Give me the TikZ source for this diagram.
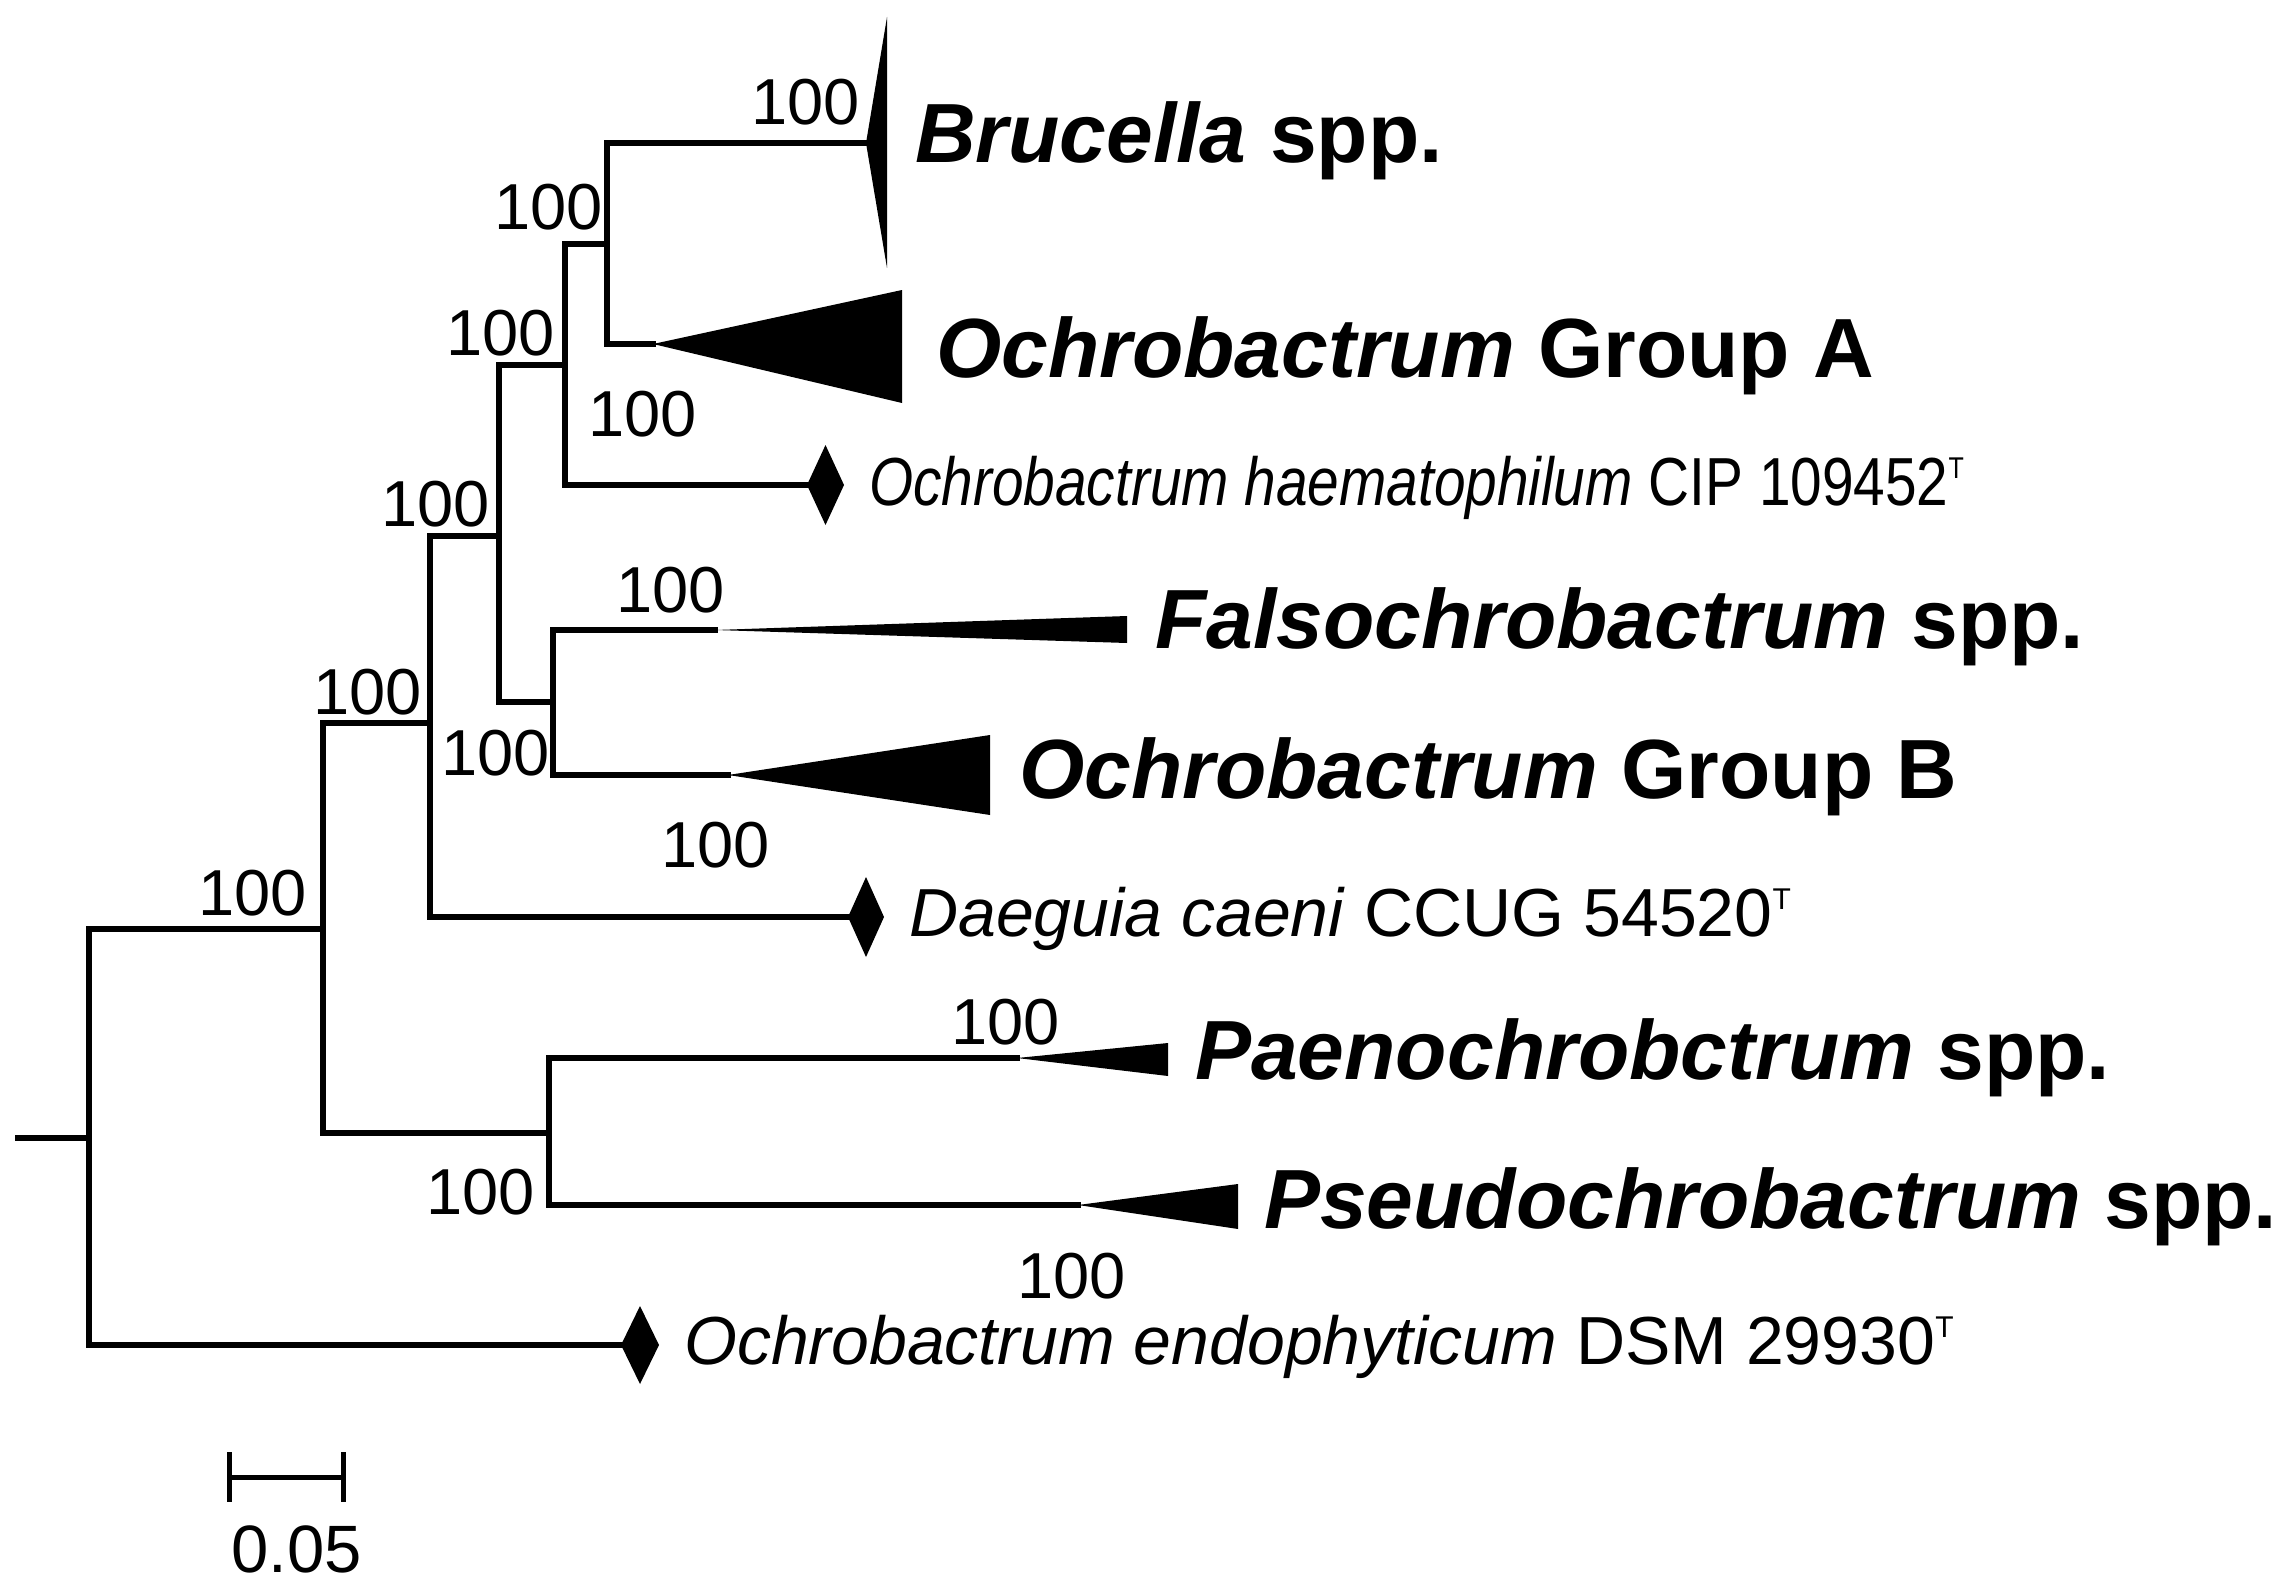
\documentclass[tikz,border=0pt]{standalone}
\usepackage{graphicx}
\usepackage{fontspec}
\setmainfont{Liberation Sans}
\newcommand\supT{\raisebox{27pt}{\fontsize{30}{30}\selectfont T}}
\begin{document}
\begin{tikzpicture}[x=1pt,y=-1pt,
  br/.style={line width=6pt,line cap=rect},
  clade/.style={fill=black,draw=none},
  boot/.style={font=\fontsize{65}{70}\selectfont,inner sep=0pt,anchor=base east},
  big/.style={font=\fontsize{84}{90}\selectfont\bfseries,inner sep=0pt,anchor=base west},
  small/.style={font=\fontsize{68}{72}\selectfont,inner sep=0pt,anchor=base west},
  sbar/.style={line width=5pt},
]
\useasboundingbox (0,0) rectangle (2293,1589);
% internal nodes
\coordinate (root) at (18,1138);
\coordinate (n1) at (89,1138);
\coordinate (n2) at (323,929);
\coordinate (n3) at (430,723);
\coordinate (n4) at (499,536);
\coordinate (n5) at (565,365);
\coordinate (n6) at (607,244);
\coordinate (n7) at (553,702);
\coordinate (n8) at (549,1133);
% leaves
\coordinate (bru) at (866,143);
\coordinate (gA) at (653,344);
\coordinate (hae) at (807,485);
\coordinate (fal) at (715,630);
\coordinate (gB) at (728,775);
\coordinate (dae) at (848,917);
\coordinate (pae) at (1017,1058);
\coordinate (pse) at (1078,1205);
\coordinate (endo) at (621,1345);
% branches
\draw[br] (root) -- (n1);
\draw[br] (n1) |- (n2);
\draw[br] (n1) |- (endo);
\draw[br] (n2) |- (n3);
\draw[br] (n2) |- (n8);
\draw[br] (n3) |- (n4);
\draw[br] (n3) |- (dae);
\draw[br] (n4) |- (n5);
\draw[br] (n4) |- (n7);
\draw[br] (n5) |- (n6);
\draw[br] (n5) |- (hae);
\draw[br] (n6) |- (bru);
\draw[br] (n6) |- (gA);
\draw[br] (n7) |- (fal);
\draw[br] (n7) |- (gB);
\draw[br] (n8) |- (pae);
\draw[br] (n8) |- (pse);
% collapsed clades
\fill[clade] (bru) -- (887,17) -- (887,268) -- cycle;
\fill[clade] (gA) -- (902,290) -- (902,403) -- cycle;
\fill[clade] (fal) -- (1127,616) -- (1127,643) -- cycle;
\fill[clade] (gB) -- (990,735) -- (990,815) -- cycle;
\fill[clade] (pae) -- (1168,1043) -- (1168,1076) -- cycle;
\fill[clade] (pse) -- (1238,1184) -- (1238,1229) -- cycle;
% diamonds
\fill[clade] (hae) -- ++(18.5,-40) -- ++(18.5,40) -- ++(-18.5,40) -- cycle;
\fill[clade] (dae) -- ++(18,-40) -- ++(18,40) -- ++(-18,40) -- cycle;
\fill[clade] (endo) -- ++(19,-39) -- ++(19,39) -- ++(-19,39) -- cycle;
% taxon labels
\node[big] (tbru) at (915,163) {\textit{Brucella} spp.};
\node[big] (tgA) at (936,377) {\textit{Ochrobactrum} Group A};
\node[small] (thae) at (869,505) {\scalebox{0.835}[1]{\textit{Ochrobactrum haematophilum} CIP 109452\supT}};
\node[big] (tfal) at (1155,648) {\textit{Falsochrobactrum} spp.};
\node[big] (tgB) at (1019,798) {\textit{Ochrobactrum} Group B};
\node[small] (tdae) at (909,936) {\textit{Daeguia caeni} CCUG 54520\supT};
\node[big] (tpae) at (1195,1079) {\textit{Paenochrobctrum} spp.};
\node[big] (tpse) at (1264,1228) {\textit{Pseudochrobactrum} spp.};
\node[small] (tend) at (684,1364) {\textit{Ochrobactrum endophyticum} DSM 29930\supT};
% bootstrap values
\node[boot] (b1) at (860,125) {100};
\node[boot] (b2) at (697,436) {100};
\node[boot] (b3) at (603,230) {100};
\node[boot] (b4) at (555,355) {100};
\node[boot] (b5) at (490,526) {100};
\node[boot] (b6) at (422,714) {100};
\node[boot] (b7) at (307,915) {100};
\node[boot] (b8) at (550,775) {100};
\node[boot] (b9) at (725,612) {100};
\node[boot] (b10) at (770,867) {100};
\node[boot] (b11) at (535,1214) {100};
\node[boot] (b12) at (1060,1044) {100};
\node[boot] (b13) at (1126,1298) {100};
% scale bar
\coordinate (sa) at (229,1477);
\coordinate (sb) at (343,1477);
\draw[sbar] (sa) -- (sb);
\draw[sbar] (229,1452) -- (229,1502);
\draw[sbar] (343,1452) -- (343,1502);
\node[boot,anchor=base west,font=\fontsize{67}{70}\selectfont] (sl) at (231,1572) {0.05};
\end{tikzpicture}
\end{document}
